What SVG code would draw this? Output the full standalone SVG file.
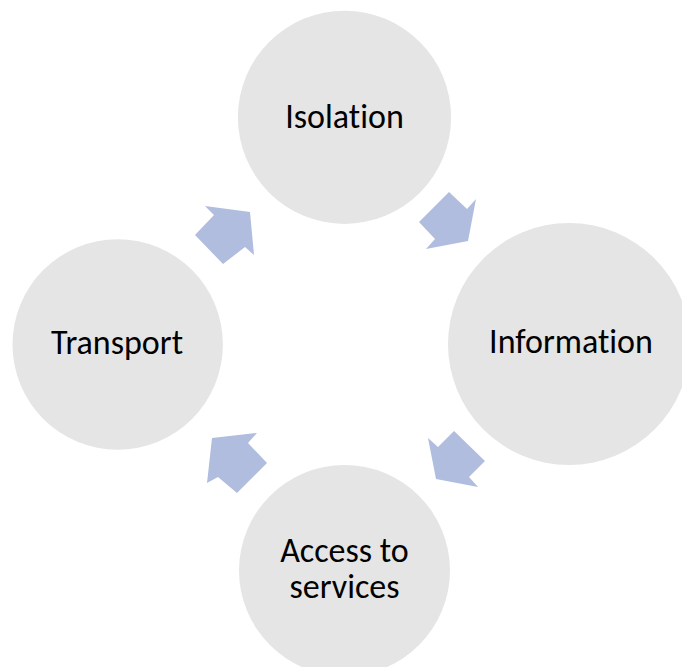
<svg xmlns="http://www.w3.org/2000/svg" width="682" height="667" viewBox="0 0 682 667">
  <style>
    .node { fill: #E5E5E5; }
    .arrow { fill: #B0BDDF; }
    .label { font-family: Carlito, Calibri, "Liberation Sans", Arial, sans-serif; font-size: 34px; fill: #000000; text-anchor: middle; font-variant-ligatures: none; }
  </style>
  <rect width="682" height="667" fill="#FFFFFF"/>
  <g id="connectors">
    <polygon class="arrow" points="449,192 467,209 476,199 468,241 426,249 435,239 419,222"/>
    <polygon class="arrow" points="454,431 438,447 428,438 436,479 478,487 469,477 485,461"/>
    <polygon class="arrow" points="267,463 248,443 257,433 212,438 207,483 218,477 237,493"/>
    <polygon class="arrow" points="195,235 214,215 205,206 250,212 254,255 245,247 223,264"/>
  </g>
  <g id="isolation">
    <circle class="node" cx="344.5" cy="117.3" r="106.6"/>
    <text class="label" x="344.5" y="128.3">Isolation</text>
  </g>
  <g id="information">
    <circle class="node" cx="569" cy="344" r="121"/>
    <text class="label" x="571" y="353.3">Information</text>
  </g>
  <g id="access">
    <circle class="node" cx="344.5" cy="570.5" r="105.5"/>
    <text class="label" x="344.5" y="561.7">Access to</text>
    <text class="label" x="344.5" y="598.3">services</text>
  </g>
  <g id="transport">
    <circle class="node" cx="117.7" cy="344.5" r="105.2"/>
    <text class="label" x="117" y="354.3">Transport</text>
  </g>
</svg>
